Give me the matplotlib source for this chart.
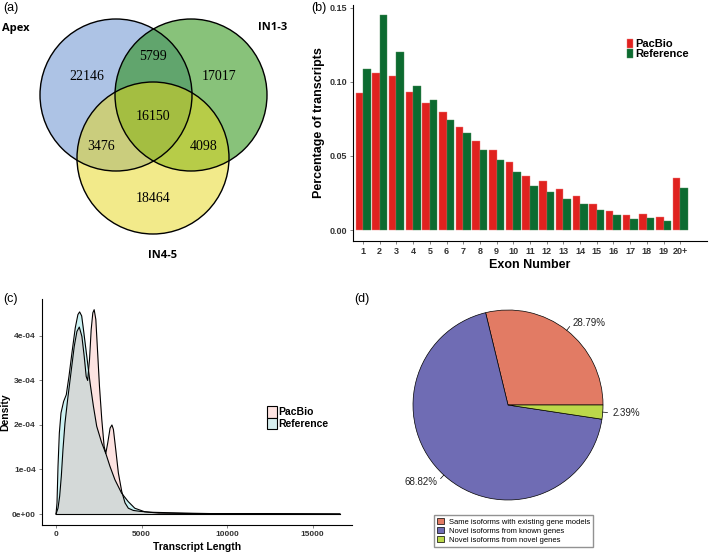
import numpy as np
import matplotlib
matplotlib.use("Agg")
import matplotlib.pyplot as plt
from matplotlib.patches import Circle, Patch

plt.rcParams['font.family'] = ['Liberation Sans', 'DejaVu Sans']

# (a) venn counts
venn_sets = ["Apex", "IN1-3", "IN4-5"]
venn_counts = [22146, 5799, 17017, 16150, 3476, 4098, 18464]

# (b) exon number distribution
exon_labels = [str(i) for i in range(1, 20)] + ["20+"]
pacbio_exon = [0.0928, 0.106, 0.1043, 0.0935, 0.086, 0.0797, 0.0698, 0.0601, 0.0538, 0.0459,
               0.0365, 0.0329, 0.0277, 0.0232, 0.0176, 0.0131, 0.0101, 0.0106, 0.009, 0.0354]
ref_exon = [0.109, 0.145, 0.120, 0.0975, 0.0876, 0.0743, 0.0655, 0.054, 0.047, 0.039,
            0.030, 0.0254, 0.021, 0.0176, 0.0135, 0.0101, 0.0077, 0.0079, 0.0063, 0.0284]

# (c) transcript length density (density in 1e-4)
pac_len = [0, 116, 213, 310, 407, 524, 679, 873, 1067, 1222, 1360, 1513, 1649, 1765, 1850,
           1959, 2056, 2153, 2231, 2328, 2425, 2541, 2677, 2813, 2910, 3026, 3162, 3270, 3356,
           3492, 3647, 3841, 4035, 4229, 4520, 4908, 5500, 6500, 7500, 9000, 12000, 16600]
pac_dens = [0, 0.13, 0.40, 0.85, 1.45, 2.04, 2.57, 3.17, 3.77, 4.10, 4.20, 3.99, 3.54, 3.09, 3.00,
            3.47, 4.14, 4.52, 4.59, 4.37, 3.69, 2.87, 2.12, 1.52, 1.36, 1.60, 1.93, 2.00, 1.90,
            1.45, 0.92, 0.51, 0.25, 0.13, 0.08, 0.06, 0.04, 0.03, 0.02, 0.01, 0.01, 0]
ref_len = [0, 58, 116, 194, 291, 446, 601, 757, 931, 1125, 1280, 1380, 1500, 1606, 1800, 1993,
           2187, 2380, 2671, 2903, 3155, 3445, 3833, 4220, 4607, 5188, 6000, 8000, 12000, 16600]
ref_dens = [0, 0.25, 1.07, 1.82, 2.27, 2.53, 2.68, 3.09, 3.62, 4.18, 4.48, 4.54, 4.45, 4.14, 3.54, 2.94,
            2.42, 1.97, 1.60, 1.37, 1.07, 0.77, 0.47, 0.28, 0.13, 0.05, 0.02, 0.01, 0.005, 0]

# (d) isoform classes
pie_labels = ["Same isoforms with existing gene models", "Novel isoforms from known genes",
              "Novel isoforms from novel genes"]
pie_vals = [28.79, 68.82, 2.39]
pie_colors = ["#e27b64", "#6f6cb4", "#bcd84a"]

W, H = 709, 554
fig = plt.figure(figsize=(W / 100, H / 100), dpi=100)


def px(x0, y0, x1, y1):
    return [x0 / W, 1 - y1 / H, (x1 - x0) / W, (y1 - y0) / H]


# ---- (a) venn, in pixel coordinates
axa = fig.add_axes([0, 0, 1, 1])
axa.set_xlim(0, W)
axa.set_ylim(H, 0)
axa.axis("off")
circ = [((116, 95), "#5d89cd", 0.5), ((191, 95), "#1b8a00", 0.52), ((153, 158), "#e7d717", 0.5)]
for (c, col, a) in circ:
    axa.add_patch(Circle(c, 76, facecolor=col, alpha=a, edgecolor="none"))
for (c, col, a) in circ:
    axa.add_patch(Circle(c, 76, facecolor="none", edgecolor="black", lw=1.0))
num_pos = [(87, 77), (153, 57), (219, 77), (153, 117), (101, 147), (204, 147), (153, 199)]
for (x, y), n in zip(num_pos, venn_counts):
    axa.text(x, y, str(n), ha="center", va="center", fontsize=10, family="Liberation Serif")
for (x, y), s in zip([(2, 29), (258, 27), (148, 255)], venn_sets):
    axa.text(x, y, s, ha="left", va="center", fontsize=8, fontweight="bold", family="Open Sans")
for (x, y), s in zip([(3, 8), (311, 8), (3, 299), (354, 299)], ["(a)", "(b)", "(c)", "(d)"]):
    axa.text(x, y, s, ha="left", va="center", fontsize=9)

# ---- (b) exon bars
axb = fig.add_axes(px(353, 5, 707, 241))
idx = np.arange(1, len(exon_labels) + 1)
axb.bar(idx - 0.225, pacbio_exon, 0.45, color="#e0221f", edgecolor="#f08080", lw=0.3, label="PacBio")
axb.bar(idx + 0.225, ref_exon, 0.45, color="#0c6b30", edgecolor="#4a8a5a", lw=0.3, label="Reference")
axb.set_xlim(0.4, 21.6)
axb.set_ylim(-0.00743, 0.152)
axb.set_xticks(idx)
axb.set_xticklabels(exon_labels)
axb.set_yticks([0, 0.05, 0.10, 0.15])
axb.set_yticklabels(["0.00", "0.05", "0.10", "0.15"])
axb.set_xlabel("Exon Number", fontsize=9, fontweight="bold")
axb.set_ylabel("Percentage of transcripts", fontsize=9, fontweight="bold")
axb.xaxis.set_label_coords((530 - 353) / 354, (241 - 259) / 236)
axb.yaxis.set_label_coords((325 - 353) / 354, 0.5)
axb.legend(loc="upper left", bbox_to_anchor=((621 - 353) / 354, 1 - 28 / 236), frameon=False,
           prop={"weight": "bold", "size": 8}, labelspacing=0, handlelength=0.6,
           handleheight=0.9, handletextpad=0.2, borderpad=0)

# ---- (c) density
axc = fig.add_axes(px(42, 299, 352, 525))
pl = np.array(pac_dens) * 1e-4
rl = np.array(ref_dens) * 1e-4
axc.fill_between(ref_len, rl, color="#00BFC4", alpha=0.2, lw=0)
axc.fill_between(pac_len, pl, color="#F8766D", alpha=0.2, lw=0)
axc.plot(pac_len, pl, color="black", lw=0.8)
axc.plot(ref_len, rl, color="black", lw=0.8)
axc.plot([0, 16600], [0, 0], color="black", lw=0.8)
axc.set_xlim(-820, 17310)
axc.set_ylim(-0.247e-4, 4.83e-4)
axc.set_xticks([0, 5000, 10000, 15000])
axc.set_xticklabels(["0", "5000", "10000", "15000"])
axc.set_yticks([0, 1e-4, 2e-4, 3e-4, 4e-4])
axc.set_yticklabels(["0e+00", "1e-04", "2e-04", "3e-04", "4e-04"])
axc.set_xlabel("Transcript Length", fontsize=7.5, fontweight="bold")
axc.set_ylabel("Density", fontsize=7.5, fontweight="bold")
axc.xaxis.set_label_coords((197 - 42) / 310, (525 - 542) / 226)
axc.yaxis.set_label_coords((10 - 42) / 310, 0.5)
hc = [Patch(facecolor="#fee4e2", edgecolor="black", lw=0.8),
      Patch(facecolor="#d6eeee", edgecolor="black", lw=0.8)]
axc.legend(hc, ["PacBio", "Reference"], loc="upper left",
           bbox_to_anchor=((262 - 42) / 310, 1 - (401 - 299) / 226), frameon=False,
           prop={"weight": "bold", "size": 7.5}, labelspacing=0, handlelength=0.9,
           handleheight=1.3, handletextpad=0.2, borderpad=0)

for ax, ls in ((axb, 6.5), (axc, 6)):
    for s in ("top", "right"):
        ax.spines[s].set_visible(False)
    for s in ("left", "bottom"):
        ax.spines[s].set_linewidth(0.8)
    ax.tick_params(length=2.5, width=0.5, color="#555555", labelsize=ls, pad=2)
    for t in ax.get_xticklabels() + ax.get_yticklabels():
        t.set_fontweight("bold")
        t.set_color("#333333")

# ---- (d) pie
axd = fig.add_axes(px(380, 277, 636, 533))
lim = 128 / 95
wedges, _ = axd.pie(pie_vals, colors=pie_colors, startangle=0, counterclock=True,
                    wedgeprops={"edgecolor": "black", "linewidth": 0.5})
axd.set_xlim(-lim, lim)
axd.set_ylim(-lim, lim)
axd.axis("off")
cum = np.cumsum([0] + pie_vals)
for i, v in enumerate(pie_vals):
    mid = np.deg2rad((cum[i] + v / 2) / 100 * 360)
    c, s = np.cos(mid), np.sin(mid)
    axd.plot([c, 1.05 * c], [s, 1.05 * s], color="black", lw=0.5)
    axd.text(1.1 * c, 1.1 * s, f"{v:.2f}%", ha="left" if c > 0 else "right", va="center",
             fontsize=7, color="#222222")
fig.legend(wedges, pie_labels, loc="upper left", bbox_to_anchor=(434 / W, 1 - 515 / H),
           fontsize=5.5, frameon=True, fancybox=False, edgecolor="#777777",
           labelspacing=0.15, handlelength=0.9, handleheight=0.9, handletextpad=0.6,
           borderpad=0.4, borderaxespad=0)

fig.savefig("out.png", dpi=100)
